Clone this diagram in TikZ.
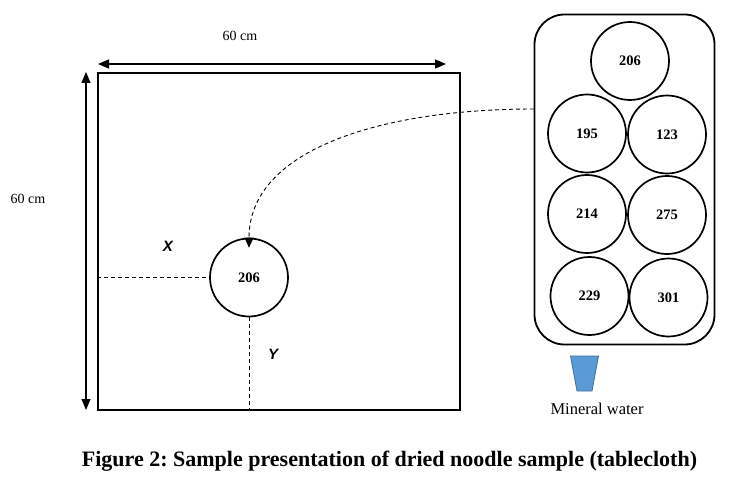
\documentclass[tikz,border=0pt]{standalone}
\usepackage{fontspec}
\setmainfont{Liberation Serif}
\newfontfamily\xyfont{Liberation Sans}
\usetikzlibrary{arrows.meta}
\frenchspacing
\definecolor{cupfill}{HTML}{5B9BD5}
\definecolor{cupline}{HTML}{41719C}
\tikzset{
  sample/.style={circle,draw,line width=1.7pt,minimum size=78pt,inner sep=0pt,font=\fontsize{14.5}{16}\selectfont\bfseries},
  dimarrow/.style={line width=1.2pt,{Triangle[length=11pt,width=9pt]}-{Triangle[length=11pt,width=9pt]}},
  guide/.style={line width=0.9pt,dash pattern=on 4pt off 3pt},
  lbl/.style={font=\fontsize{14}{16}\selectfont},
  axis/.style={font=\xyfont\fontsize{15}{17}\selectfont\bfseries\itshape},
}
\begin{document}
\begin{tikzpicture}[x=1pt,y=-1pt]
\useasboundingbox[fill=white] (0,0) rectangle (734,484);
% tablecloth
\node[draw,line width=1.8pt,minimum width=362pt,minimum height=337pt,inner sep=0pt] (sq) at (279,241.5) {};
% dimension arrows
\coordinate (hL) at (98,64); \coordinate (hR) at (446,64);
\coordinate (vT) at (86,72); \coordinate (vB) at (86,410);
\draw[dimarrow] (hL) -- (hR);
\draw[dimarrow] (vT) -- (vB);
\node[lbl] (wlab) at (240,36) {60 cm};
\node[lbl] (hlab) at (28,199) {60 cm};
% sample on the cloth
\node[sample] (c0) at (249,277.5) {206};
\draw[guide] (sq.west |- c0.west) -- (c0.west);
\draw[guide] (c0.south) -- (c0.south |- sq.south);
\node[axis] (xl) at (168,246) {X};
\node[axis] (yl) at (273,354) {Y};
% tray
\node[draw,line width=1.8pt,rounded corners=30pt,minimum width=180pt,minimum height=330pt,inner sep=0pt] (tray) at (624.5,179.5) {};
\node[sample] (s1) at (630,61) {206};
\node[sample] (s2) at (587,133.5) {195};
\node[sample] (s3) at (667,134.5) {123};
\node[sample] (s4) at (587,214) {214};
\node[sample] (s5) at (667,215) {275};
\node[sample] (s6) at (589.5,296) {229};
\node[sample] (s7) at (668.5,297.5) {301};
% transfer arrow
\coordinate (start) at (534,109);
\draw[guide,-{Triangle[length=10pt,width=9pt]}] (start) .. controls (380,109) and (249,150) .. ([yshift=-10pt]c0.north);
% water cup
\draw[fill=cupfill,draw=cupline,line width=0.8pt] (570.5,356) -- (598.5,356) -- (592,391) -- (577,391) -- cycle;
\node[font=\fontsize{16.5}{18}\selectfont] (water) at (597,409) {Mineral water};
% caption
\node[font=\fontsize{22}{26}\selectfont\bfseries] (cap) at (389.5,461) {Figure 2: Sample presentation of dried noodle sample (tablecloth)};
\end{tikzpicture}
\end{document}
